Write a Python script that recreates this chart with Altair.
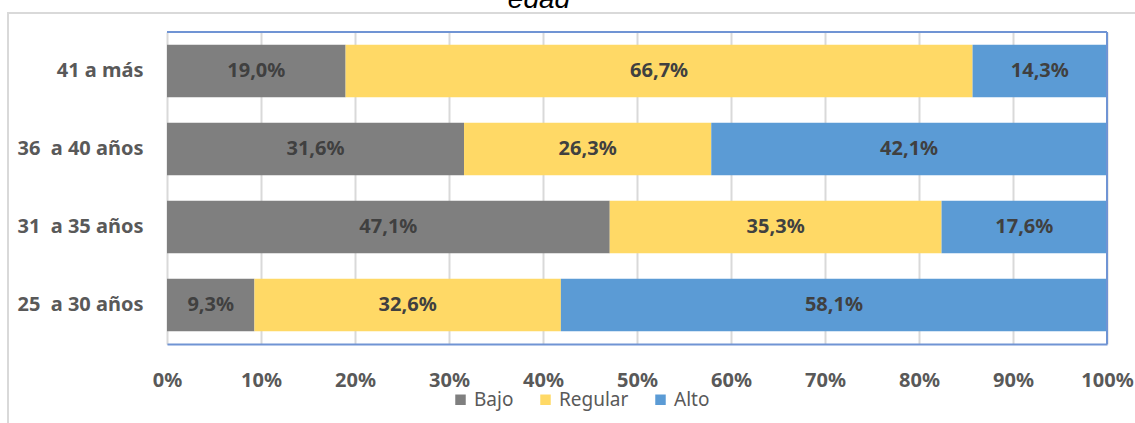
import altair as alt
import pandas as pd

# Age groups (top to bottom) and level shares per group
grupos = ["41 a más", "36\u00a0 a 40 años", "31\u00a0 a 35 años", "25\u00a0 a 30 años"]
niveles = ["Bajo", "Regular", "Alto"]
bajo = [0.190, 0.316, 0.471, 0.093]
regular = [0.667, 0.263, 0.353, 0.326]
alto = [0.143, 0.421, 0.176, 0.581]
colores = ["#7f7f7f", "#ffd966", "#5b9bd5"]
marcas_x = [i / 10 for i in range(11)]

filas = []
for i, g in enumerate(grupos):
    for j, (n, serie) in enumerate(zip(niveles, [bajo, regular, alto])):
        v = serie[i]
        filas.append({
            "grupo": g,
            "nivel": n,
            "orden": j,
            "valor": v,
            "etiqueta": f"{v * 100:.1f}%".replace(".", ","),
        })
df = pd.DataFrame(filas)

FUENTE = "Noto Sans"
GRIS_TEXTO = "#595959"
AZUL_MARCO = "#7094d4"

base = alt.Chart(df).transform_stack(
    stack="valor", as_=["x0", "x1"], groupby=["grupo"],
    sort=[alt.SortField("orden", order="ascending")],
).transform_calculate(xm="(datum.x0 + datum.x1) / 2")

eje_y = alt.Y(
    "grupo:N", sort=grupos, title=None,
    scale=alt.Scale(paddingInner=0.33, paddingOuter=0.165),
    axis=alt.Axis(labelFont=FUENTE, labelFontSize=20, labelFontWeight="bold",
                  labelColor=GRIS_TEXTO, labelPadding=24, ticks=False,
                  domain=False, grid=False),
)

barras = base.mark_bar().encode(
    x=alt.X("x0:Q", title=None,
            scale=alt.Scale(domain=[0, 1], nice=False),
            axis=alt.Axis(values=marcas_x, format=".0%", labelFont=FUENTE,
                          labelFontSize=20, labelFontWeight="bold",
                          labelColor=GRIS_TEXTO, labelPadding=26, ticks=False,
                          labelFlush=False, labelOverlap=False,
                          domain=True, domainColor=AZUL_MARCO, domainWidth=2,
                          grid=True, gridColor="#d9d9d9", gridWidth=2)),
    x2="x1:Q",
    y=eje_y,
    color=alt.Color("nivel:N", sort=niveles,
                    scale=alt.Scale(domain=niveles, range=colores),
                    legend=alt.Legend(title=None, orient="none", legendX=284,
                                      legendY=358, direction="horizontal",
                                      symbolType="square", symbolSize=110,
                                      symbolStrokeWidth=0, labelFont=FUENTE,
                                      labelFontSize=19, labelColor=GRIS_TEXTO,
                                      columnPadding=22, labelOffset=4)),
    order=alt.Order("orden:Q"),
)

textos = base.mark_text(font=FUENTE, fontSize=20, fontWeight="bold",
                        color="#404040").encode(
    x=alt.X("xm:Q"),
    y=alt.Y("grupo:N", sort=grupos),
    text="etiqueta:N",
)

# Frame lines at the top and right of the plot area
marco_sup = alt.Chart(df).mark_rule(color=AZUL_MARCO, strokeWidth=2).encode(
    x=alt.value(0), x2=alt.value(940), y=alt.value(0))
marco_der = alt.Chart(df).mark_rule(color=AZUL_MARCO, strokeWidth=2).encode(
    x=alt.value(940), y=alt.value(0), y2=alt.value(312))

# Outer border of the chart area
borde = alt.Chart(pd.DataFrame({"b": [1]})).mark_rect(
    fill=None, stroke="#d9d9d9", strokeWidth=2).encode(
    x=alt.value(-159), x2=alt.value(975), y=alt.value(-19), y2=alt.value(420))

titulo = alt.Chart(pd.DataFrame({"t": ["edad"]})).mark_text(
    font="Liberation Sans", fontSize=28, fontStyle="italic", color="#000000",
    align="center", baseline="alphabetic").encode(
    x=alt.value(372), y=alt.value(-24), text="t:N")

chart = alt.layer(borde, barras, textos, marco_sup, marco_der, titulo).properties(
    width=940, height=312,
    autosize=alt.AutoSizeParams(type="none"),
    padding={"left": 167, "top": 32, "right": 28, "bottom": 79},
).configure_view(stroke=None).configure(background="white")

chart.save("out.html", embed_options={"renderer": "svg", "actions": False})
